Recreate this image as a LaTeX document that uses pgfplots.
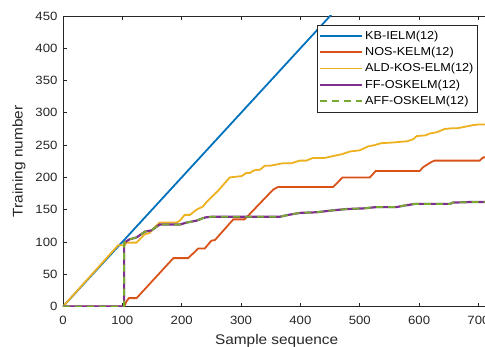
\documentclass[border=0pt]{standalone}
\usepackage{pgfplots}
\pgfplotsset{compat=1.18}
\usepackage{fontspec}
\setmainfont{Liberation Sans}[FakeStretch=1.1]
\definecolor{mblue}{rgb}{0,0.447,0.741}
\definecolor{mred}{rgb}{0.85,0.325,0.098}
\definecolor{myellow}{rgb}{0.929,0.694,0.125}
\definecolor{mpurple}{rgb}{0.494,0.184,0.556}
\definecolor{mgreen}{rgb}{0.466,0.674,0.188}
\definecolor{axgray}{rgb}{0.15,0.15,0.15}
\pgfplotsset{mylegimg/.style={legend image code/.code={\draw[##1] (0pt,0pt) -- (42pt,0pt);}}}
\begin{document}
\begin{tikzpicture}
\begin{axis}[
  scale only axis,
  width=427.6pt, height=290.7pt,
  xmin=0, xmax=720, ymin=0, ymax=450,
  xtick={0,100,...,700}, ytick={0,50,...,450},
  tick align=inside, major tick length=4pt,
  axis line style={axgray, line width=0.8pt},
  every tick/.style={axgray, line width=0.8pt},
  /pgf/number format/assume math mode=true,
  tick label style={font=\fontsize{12}{12}\selectfont, text=axgray},
  xticklabel style={yshift=-6pt},
  yticklabel style={xshift=-2pt},
  label style={font=\fontsize{14}{14}\selectfont, text=axgray},
  xlabel={Sample sequence},
  ylabel={Training number},
  xlabel style={at={(axis description cs:0.5,0)}, anchor=north, yshift=-24pt},
  ylabel style={at={(axis description cs:0,0.5)}, anchor=center, yshift=44pt},
  no markers,
  legend cell align=left,
  legend style={at={(rel axis cs:0.594,0.969)}, anchor=north west,
    font=\fontsize{11.5}{12}\selectfont, draw=axgray,
    inner xsep=2pt, inner ysep=3.5pt, row sep=2.6pt, nodes={inner sep=2pt}},
]
\addplot[mblue, line width=1.8pt, mylegimg] coordinates {(0,0) (470,470)};
\addlegendentry{KB-IELM(12)}
\addplot[mred, line width=1.8pt, mylegimg] coordinates {
(0,0) (103,0) (107,8) (111,13) (124,13) (186,75) (211,75) (228,90) (239,90)
(250,102) (256,103) (287,135) (306,135) (354,181) (362,185) (455,185) (471,200)
(517,200) (527,210) (601,210) (607,216) (621,224) (626,226) (702,226) (708,231) (715,231)};
\addlegendentry{NOS-KELM(12)}
\addplot[myellow, line width=1.8pt, mylegimg] coordinates {
(0,0) (93,95) (104,95) (107,99) (124,99) (138,112) (146,114) (158,126) (163,130)
(191,130) (197,133) (205,142) (214,142) (225,150) (236,155) (242,162) (262,180)
(281,200) (301,202) (309,207) (315,207) (322,211) (332,212) (340,218) (348,218)
(360,220) (371,222) (385,222) (399,226) (410,226) (421,230) (440,230) (455,233)
(470,236) (483,240) (500,242) (514,248) (525,250) (536,253) (555,254) (567,255)
(580,256) (590,259) (596,264) (610,265) (618,268) (630,270) (643,275) (655,276)
(663,276) (675,278) (691,281) (700,282) (715,282)};
\addlegendentry{ALD-KOS-ELM(12)}
\addplot[mpurple, line width=2.2pt, mylegimg] coordinates {
(0,0) (103,0) (103,99) (105,100) (112,104) (124,107) (138,116) (149,118) (163,127)
(197,127) (208,130) (225,133) (236,137) (240,138) (250,139) (332,139) (365,139)
(380,142) (399,145) (427,146) (455,149) (478,151) (506,152) (528,154) (562,154)
(573,156) (593,159) (652,159) (657,161) (691,162) (715,162)};
\addlegendentry{FF-OSKELM(12)}
\addplot[mgreen, line width=1.8pt, dash pattern=on 7pt off 5pt, mylegimg] coordinates {
(0,0) (103,0) (103,99) (105,100) (112,104) (124,107) (138,116) (149,118) (163,127)
(197,127) (208,130) (225,133) (236,137) (240,138) (250,139) (332,139) (365,139)
(380,142) (399,145) (427,146) (455,149) (478,151) (506,152) (528,154) (562,154)
(573,156) (593,159) (652,159) (657,161) (691,162) (715,162)};
\addlegendentry{AFF-OSKELM(12)}
\coordinate (SW) at (rel axis cs:0,0);
\coordinate (NE) at (axis cs:711,450);
\end{axis}
\pgfresetboundingbox
\path ([shift={(-63pt,-40.3pt)}]SW) rectangle ([shift={(0pt,16pt)}]NE);
\end{tikzpicture}
\end{document}
